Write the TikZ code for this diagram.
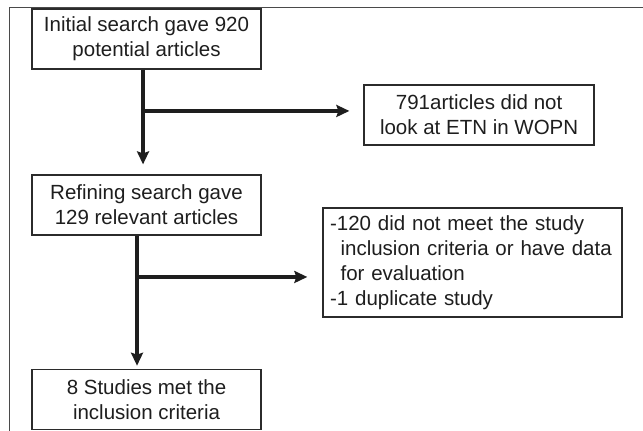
\documentclass[tikz,border=0pt]{standalone}
\usepackage{fontspec}
\setmainfont{Liberation Sans}
\usepackage{tikz}
\usetikzlibrary{arrows.meta}
\definecolor{boxline}{HTML}{2B2B2B}
\definecolor{textgray}{HTML}{1E1E1E}
\definecolor{framegray}{HTML}{4A4A4A}
\tikzset{
  stage/.style={rectangle,draw=boxline,line width=1.5pt,fill=white,minimum width=229pt,minimum height=60pt,inner sep=0pt,align=center,text=textgray,font=\fontsize{20.5}{25}\selectfont},
  excluded/.style={stage,minimum width=230pt},
  note/.style={stage,align=left,text width=285pt,minimum width=299pt,minimum height=109pt,inner xsep=7pt},
  arrow/.style={-{Stealth[length=13pt,width=12pt,inset=2pt]},line width=4pt,draw=textgray},
  frame/.style={draw=framegray,line width=1pt}
}

\begin{document}
\begin{tikzpicture}
  \useasboundingbox (0,0) rectangle (22.6,-15.148);
  \draw[frame] (22.6,-0.281) -- (0.351,-0.281) -- (0.351,-15.148);

  \node[stage] (initial) at (5.15,-1.37) {Initial search gave 920\\potential articles};
  \node[stage] (refining) at (5.15,-7.21) {Refining search gave\\129 relevant articles};
  \node[stage] (included) at (5.15,-14.04) {8 Studies met the\\inclusion criteria};
  \node[excluded] (notetn) at (16.84,-4.04) {791articles did not\\look at ETN in WOPN};
  \node[note] (notmet) at (16.61,-9.23) {-120 did not meet the study\\\hspace*{10.5pt}inclusion criteria or have data\\\hspace*{10.5pt}for evaluation\\-1 duplicate study};

  \coordinate (split1) at (5.026,-3.90);
  \coordinate (split2) at (4.815,-9.735);

  \draw[arrow,shorten >=10pt] ([xshift=-3.5pt]initial.south) -- ([xshift=-3.5pt]refining.north);
  \draw[arrow,shorten >=14pt] (split1) -- (split1 -| notetn.west);
  \draw[arrow,shorten >=3pt] ([xshift=-9.5pt]refining.south) -- ([xshift=-9.5pt]included.north);
  \draw[arrow,shorten >=15pt] (split2) -- (split2 -| notmet.west);
\end{tikzpicture}
\end{document}
